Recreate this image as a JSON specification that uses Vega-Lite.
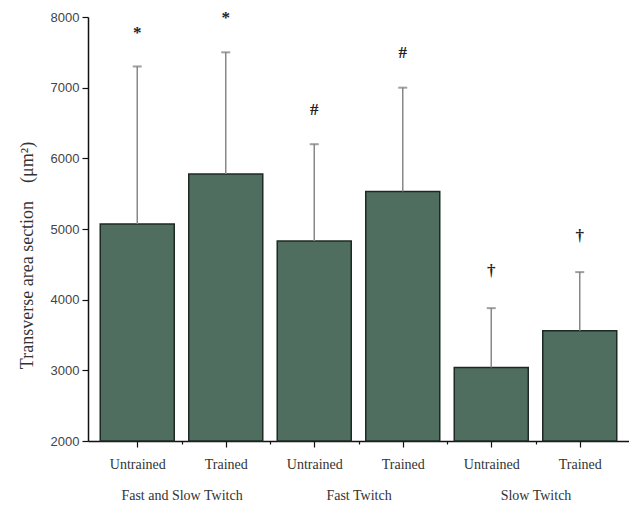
{
  "$schema": "https://vega.github.io/schema/vega-lite/v6.json",
  "width": 541,
  "height": 424,
  "autosize": "none",
  "padding": {"left": 88, "top": 17, "right": 0, "bottom": 71},
  "background": "white",
  "config": {"view": {"stroke": null}},
  "data": {
    "values": [
      {"idx": 1, "group": "Fast and Slow Twitch", "condition": "Untrained", "mean": 5070, "upper": 7300, "sig": "*", "sigY": 7780},
      {"idx": 2, "group": "Fast and Slow Twitch", "condition": "Trained", "mean": 5780, "upper": 7500, "sig": "*", "sigY": 7980},
      {"idx": 3, "group": "Fast Twitch", "condition": "Untrained", "mean": 4830, "upper": 6200, "sig": "#", "sigY": 6680},
      {"idx": 4, "group": "Fast Twitch", "condition": "Trained", "mean": 5530, "upper": 7000, "sig": "#", "sigY": 7490},
      {"idx": 5, "group": "Slow Twitch", "condition": "Untrained", "mean": 3040, "upper": 3880, "sig": "†", "sigY": 4400},
      {"idx": 6, "group": "Slow Twitch", "condition": "Trained", "mean": 3560, "upper": 4390, "sig": "†", "sigY": 4900}
    ]
  },
  "encoding": {
    "x": {
      "field": "idx",
      "type": "quantitative",
      "scale": {"domain": [0.5, 6.5], "nice": false, "zero": false},
      "axis": {
        "title": null,
        "grid": false,
        "values": [1, 1.5, 2, 2.5, 3, 3.5, 4, 4.5, 5, 5.5, 6],
        "labelExpr": "datum.value % 2 === 1 ? 'Untrained' : (datum.value % 2 === 0 ? 'Trained' : (datum.value === 1.5 ? ['', 'Fast and Slow Twitch'] : (datum.value === 3.5 ? ['', 'Fast Twitch'] : (datum.value === 5.5 ? ['', 'Slow Twitch'] : ''))))",
        "labelOverlap": false,
        "labelBound": false,
        "labelFlush": false,
        "labelFont": "Liberation Serif",
        "labelFontSize": 14,
        "labelColor": "#333333",
        "labelLineHeight": 34,
        "labelPadding": 10,
        "labelBaseline": "top",
        "domainColor": "#111111",
        "domainWidth": 1.5,
        "tickColor": "#111111",
        "tickWidth": 1.2,
        "tickSize": {"condition": {"test": "datum.value % 1 === 0", "value": 6}, "value": 3}
      }
    }
  },
  "layer": [
    {
      "mark": {"type": "bar", "width": 74, "fill": "#4f6e5f", "stroke": "#1c2a23", "strokeWidth": 1.5},
      "encoding": {
        "y": {
          "field": "mean",
          "type": "quantitative",
          "scale": {"domain": [2000, 8000], "nice": false, "zero": false},
          "axis": {
            "title": "Transverse area section\u00a0\u00a0\u00a0\u00a0(μm²)",
            "titleFont": "Liberation Serif",
            "titleFontSize": 18,
            "titleFontWeight": "normal",
            "titleColor": "#333333",
            "titlePadding": 14,
            "titleY": 238,
            "grid": false,
            "values": [2000, 2500, 3000, 3500, 4000, 4500, 5000, 5500, 6000, 6500, 7000, 7500, 8000],
            "format": "d",
            "labelExpr": "datum.value % 1000 === 0 ? datum.label : ''",
            "labelFont": "Liberation Sans",
            "labelFontSize": 13,
            "labelColor": "#444444",
            "labelPadding": 3,
            "domainColor": "#111111",
            "domainWidth": 1.5,
            "tickColor": "#111111",
            "tickWidth": 1.2,
            "tickSize": {"condition": {"test": "datum.value % 1000 === 0", "value": 6}, "value": 3}
          }
        },
        "y2": {"datum": 2000}
      }
    },
    {
      "mark": {"type": "rule", "color": "#888888", "strokeWidth": 1.5},
      "encoding": {
        "y": {"field": "mean", "type": "quantitative"},
        "y2": {"field": "upper"}
      }
    },
    {
      "mark": {"type": "tick", "orient": "horizontal", "color": "#777777", "size": 9, "thickness": 2},
      "encoding": {
        "y": {"field": "upper", "type": "quantitative"}
      }
    },
    {
      "mark": {"type": "text", "font": "Liberation Serif", "fontSize": 17, "fontWeight": "bold", "color": "#222222", "baseline": "middle", "align": "center"},
      "encoding": {
        "y": {"field": "sigY", "type": "quantitative"},
        "text": {"field": "sig"}
      }
    }
  ]
}
